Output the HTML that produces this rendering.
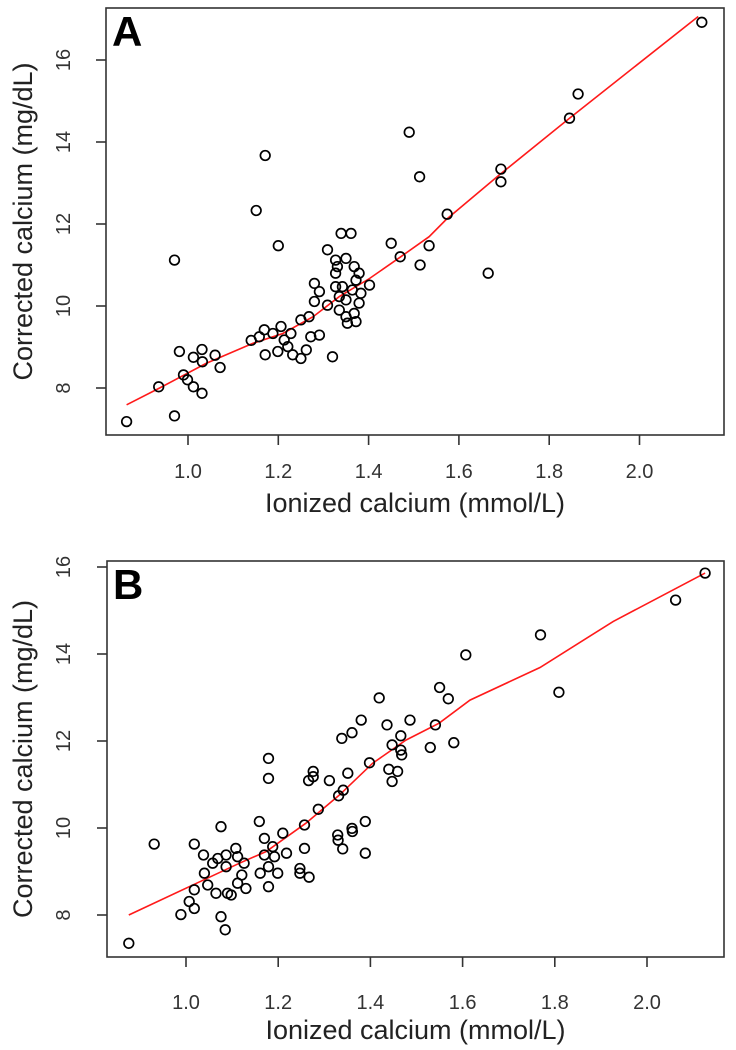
<!DOCTYPE html>
<html><head><meta charset="utf-8"><style>
html,body{margin:0;padding:0;background:#fff;}
svg{display:block;font-family:"Liberation Sans",Arial,sans-serif;}
</style></head><body>
<svg id="chart" width="736" height="1050" viewBox="0 0 736 1050" xmlns="http://www.w3.org/2000/svg"></svg>
<script>
// ---- Panel A data ----
const aIonized = [0.864,0.970,0.935,0.970,0.990,0.999,1.012,1.031,0.981,1.012,1.031,1.032,1.060,1.071,1.140,1.151,1.171,1.200,1.158,1.169,1.171,1.188,1.199,1.206,1.213,1.221,1.228,1.232,1.250,1.250,1.262,1.268,1.272,1.291,1.280,1.291,1.280,1.320,1.309,1.339,1.361,1.309,1.327,1.331,1.350,1.327,1.368,1.327,1.342,1.335,1.350,1.335,1.350,1.353,1.372,1.368,1.379,1.383,1.372,1.379,1.402,1.364,1.450,1.470,1.514,1.534,1.513,1.490,1.574,1.665,1.693,1.693,1.845,1.864,2.138];
const aCorrected = [7.18,7.32,8.03,11.12,8.32,8.20,8.03,7.87,8.89,8.75,8.94,8.64,8.80,8.50,9.16,12.33,13.67,11.47,9.25,9.42,8.81,9.33,8.89,9.50,9.17,9.01,9.33,8.81,9.66,8.72,8.93,9.74,9.25,9.29,10.55,10.35,10.11,8.76,11.37,11.77,11.77,10.02,11.12,10.96,11.16,10.80,10.96,10.47,10.47,10.23,10.15,9.90,9.74,9.58,9.62,9.82,10.07,10.31,10.63,10.80,10.51,10.39,11.53,11.20,11.00,11.47,13.15,14.24,12.24,10.80,13.34,13.03,14.58,15.17,16.92];
const aFitX = [0.864,0.937,1.040,1.144,1.210,1.277,1.335,1.402,1.471,1.534,1.571,1.690,1.845,2.130];
const aFitY = [7.59,8.00,8.60,9.09,9.33,9.74,10.23,10.67,11.20,11.69,12.10,13.20,14.58,17.06];
// ---- Panel B data ----
const bIonized = [0.876,0.931,0.989,1.007,1.018,1.018,1.018,1.038,1.040,1.047,1.058,1.065,1.069,1.076,1.076,1.085,1.087,1.090,1.098,1.087,1.108,1.112,1.112,1.121,1.130,1.126,1.159,1.161,1.170,1.170,1.179,1.179,1.179,1.179,1.188,1.192,1.199,1.210,1.218,1.247,1.247,1.257,1.257,1.267,1.266,1.276,1.276,1.287,1.311,1.331,1.341,1.329,1.330,1.340,1.338,1.360,1.351,1.360,1.361,1.389,1.389,1.380,1.398,1.436,1.440,1.447,1.447,1.459,1.466,1.466,1.468,1.486,1.530,1.541,1.581,2.126,2.062,1.769,1.607,1.809,1.550,1.569,1.419];
const bCorrected = [7.35,9.63,8.01,8.31,8.15,8.58,9.63,9.38,8.96,8.69,9.19,8.50,9.30,10.03,7.96,7.66,9.38,8.50,8.46,9.11,9.53,9.34,8.73,8.92,8.61,9.19,10.15,8.96,9.76,9.38,11.60,11.14,8.65,9.11,9.57,9.34,8.96,9.88,9.42,9.07,8.96,9.53,10.07,8.87,11.09,11.30,11.18,10.43,11.09,10.74,10.87,9.84,9.72,9.52,12.06,12.19,11.26,9.99,9.92,10.15,9.42,12.48,11.50,12.37,11.35,11.91,11.07,11.30,12.12,11.79,11.68,12.48,11.85,12.37,11.96,15.86,15.24,14.44,13.98,13.12,13.23,12.97,12.99];
const bFitX = [0.876,1.007,1.116,1.174,1.260,1.333,1.405,1.477,1.549,1.616,1.768,1.927,2.126];
const bFitY = [8.00,8.65,9.19,9.46,10.11,10.76,11.49,12.02,12.41,12.94,13.69,14.75,15.86];
// ---- Ticks ----
const xTicks = ["1.0","1.2","1.4","1.6","1.8","2.0"];
const yTicks = ["8","10","12","14","16"];

const NS = "http://www.w3.org/2000/svg";
const svg = document.getElementById('chart');
function mk(tag, attrs, parent){
  const e = document.createElementNS(NS, tag);
  for (const k in attrs) e.setAttribute(k, attrs[k]);
  (parent || svg).appendChild(e);
  return e;
}

function panel(cfg){
  const g = mk('g', {});
  
  
  const X = v => cfg.x0 + cfg.xs * (v - 1);
  const Y = v => cfg.y16 + cfg.ys * (16 - v);
  const box = mk('rect', {x: cfg.L, y: cfg.T, width: cfg.R - cfg.L, height: cfg.B - cfg.T, fill: 'none', stroke: '#333', 'stroke-width': 1.6}, g);
  
  
  const lt = mk('text', {x: cfg.L + 6, y: cfg.T + 38, 'font-size': 42, 'font-weight': 'bold', fill: '#000'}, g);
  lt.textContent = cfg.id.toUpperCase();
  
  
  xTicks.forEach(t => {
    const x = X(parseFloat(t));
    const tk = mk('line', {x1: x, x2: x, y1: cfg.B, y2: cfg.B + 10, stroke: '#333', 'stroke-width': 1.6}, g);
    
    
    const tx = mk('text', {x: x, y: cfg.B + cfg.xlabOff, 'font-size': 20, 'text-anchor': 'middle', fill: '#333'}, g);
    tx.textContent = t;
    
    
  });
  yTicks.forEach(t => {
    const y = Y(parseFloat(t));
    const tk = mk('line', {x1: cfg.L - 10, x2: cfg.L, y1: y, y2: y, stroke: '#333', 'stroke-width': 1.6}, g);
    
    
    const tx = mk('text', {x: 0, y: 0, 'font-size': 20, 'text-anchor': 'middle', fill: '#333', transform: 'translate(' + 70 + ',' + y + ') rotate(-90)'}, g);
    tx.textContent = t;
    
    
  });
  const xt = mk('text', {x: (cfg.L + cfg.R) / 2, y: cfg.B + cfg.xtitleOff, 'font-size': 27, 'text-anchor': 'middle', fill: '#222'}, g);
  xt.textContent = 'Ionized calcium (mmol/L)';
  
  
  const yt = mk('text', {x: 0, y: 0, 'font-size': 27, 'text-anchor': 'middle', fill: '#222', transform: 'translate(32,' + ((cfg.T + cfg.B) / 2) + ') rotate(-90)'}, g);
  yt.textContent = 'Corrected calcium (mg/dL)';
  
  
  const d = cfg.fx.map((v, i) => (i ? 'L' : 'M') + X(v).toFixed(1) + ' ' + Y(cfg.fy[i]).toFixed(1)).join(' ');
  const ln = mk('path', {d: d, fill: 'none', stroke: '#ff1a1a', 'stroke-width': 1.6}, g);
  
  
  cfg.px.forEach((v, i) => {
    const c = mk('circle', {cx: X(v).toFixed(1), cy: Y(cfg.py[i]).toFixed(1), r: 4.8, fill: 'none', stroke: '#000', 'stroke-width': 1.7}, g);
    
    
  });
}

panel({id: 'a', L: 106, R: 724, T: 8, B: 435, x0: 188, xs: 451.5, y16: 60, ys: 41,
  xlabOff: 43, xtitleOff: 77, px: aIonized, py: aCorrected, fx: aFitX, fy: aFitY});
panel({id: 'b', L: 107, R: 724, T: 561, B: 957, x0: 186, xs: 461, y16: 567, ys: 43.5,
  xlabOff: 52, xtitleOff: 82, px: bIonized, py: bCorrected, fx: bFitX, fy: bFitY});
</script>
</body></html>
